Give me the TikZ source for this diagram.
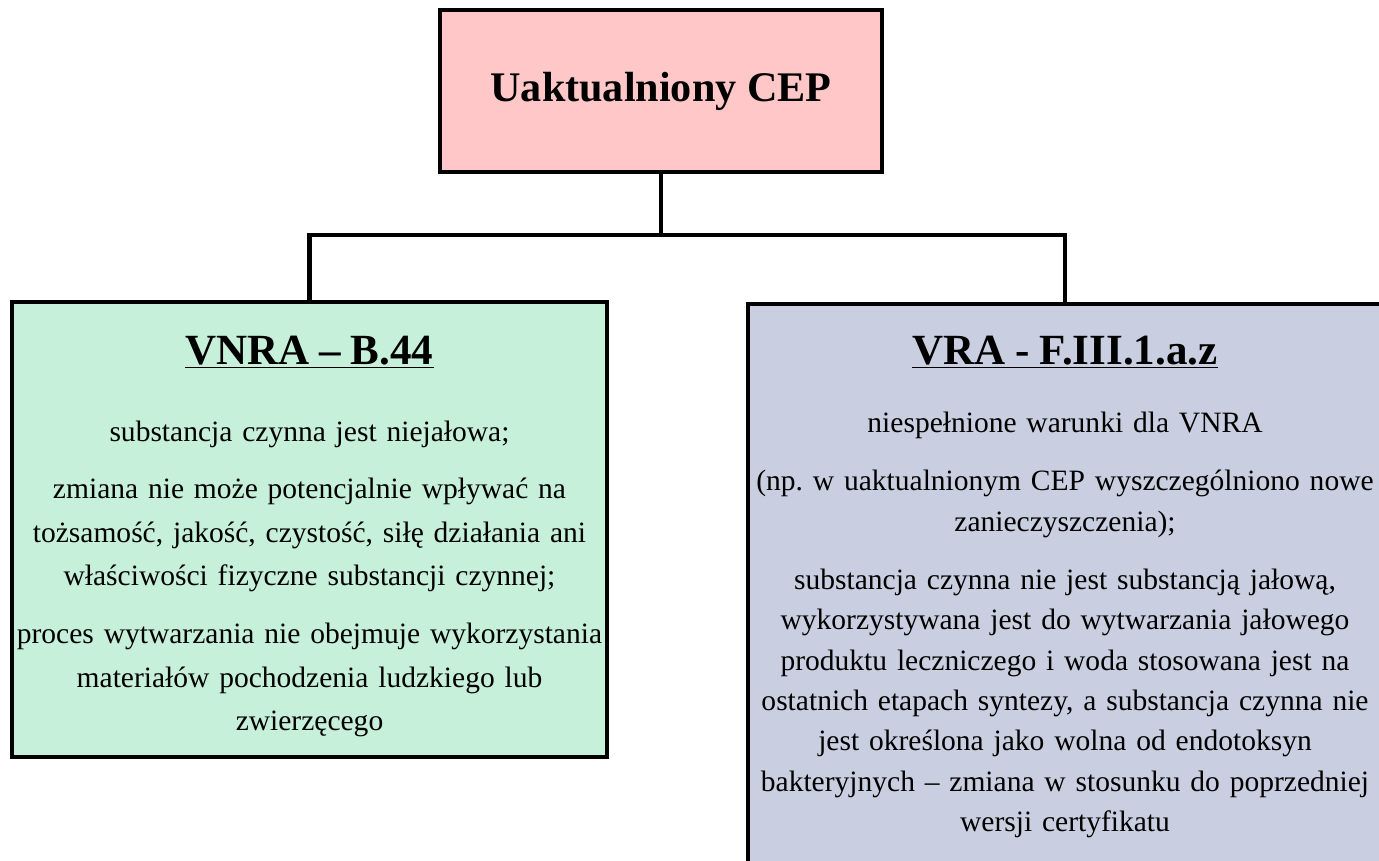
\documentclass[tikz,border=0pt]{standalone}
\usepackage{fontspec}
\setmainfont{Liberation Serif}
\usepackage{xcolor}
\definecolor{ceppink}{RGB}{255,199,199}
\definecolor{cepgreen}{RGB}{198,240,218}
\definecolor{cepblue}{RGB}{201,207,224}
\usetikzlibrary{positioning}
\newcommand{\boxhead}{\fontsize{24.5}{28}\selectfont\bfseries}
\frenchspacing

\begin{document}
\begin{tikzpicture}[x=0.02cm, y=-0.02cm,
    box/.style={draw=black, line width=2pt, align=center, inner sep=0pt},
    link/.style={line width=2.8pt}]
  \useasboundingbox (0,0) rectangle (1379,860);
  \clip (0,0) rectangle (1379,860);

  % Top box
  \node[box, fill=ceppink, minimum width=8.84cm, minimum height=3.24cm,
        font=\fontsize{24}{28}\selectfont\bfseries] (cep) at (661,91)
       {Uaktualniony CEP};

  % Left box
  \node[box, fill=cepgreen, minimum width=11.9cm, minimum height=9.1cm,
        text width=11.8cm, font=\fontsize{16.8}{24.8}\selectfont] (vnra) at (309.5,529.5)
       {\rule{0pt}{24pt}{\boxhead\underline{VNRA – B.44}}\\[19pt]
        substancja czynna jest niejałowa;\\[8pt]
        zmiana nie może potencjalnie wpływać na\\
        tożsamość, jakość, czystość, siłę działania ani\\
        właściwości fizyczne substancji czynnej;\\[8pt]
        proces wytwarzania nie obejmuje wykorzystania\\
        materiałów pochodzenia ludzkiego lub\\
        zwierzęcego};

  % Right box (runs past the page edge)
  \node[box, fill=cepblue, minimum width=12.68cm, minimum height=11.32cm,
        text width=12.6cm, font=\fontsize{16.8}{23}\selectfont] (vra) at (1065,587)
       {{\boxhead\underline{VRA - F.III.1.a.z}}\\[16pt]
        niespełnione warunki dla VNRA\\[10pt]
        (np. w uaktualnionym CEP wyszczególniono nowe\\
        zanieczyszczenia);\\[10pt]
        substancja czynna nie jest substancją jałową,\\
        wykorzystywana jest do wytwarzania jałowego\\
        produktu leczniczego i woda stosowana jest na\\
        ostatnich etapach syntezy, a substancja czynna nie\\
        jest określona jako wolna od endotoksyn\\
        bakteryjnych – zmiana w stosunku do poprzedniej\\
        wersji certyfikatu};

  % Connectors
  \coordinate (split) at (661,235);
  \draw[link] (cep.south) -- (split);
  \draw[link] (vnra.north) |- (split) -| (vra.north);
\end{tikzpicture}
\end{document}
